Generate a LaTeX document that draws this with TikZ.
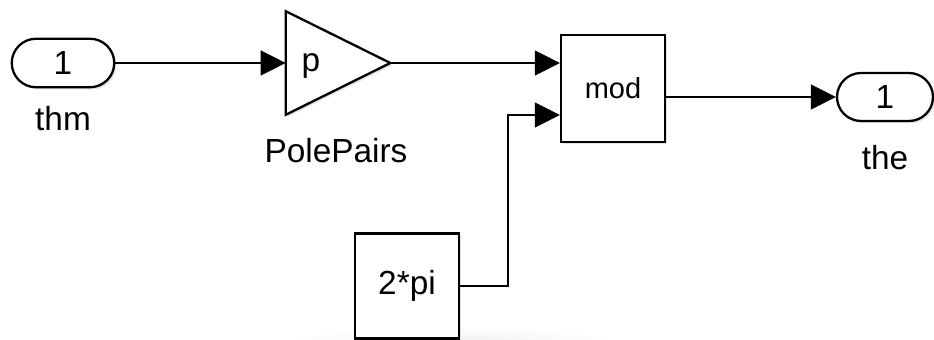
\documentclass[tikz,border=0pt]{standalone}
\usepackage{fontspec}
\setmainfont{Liberation Sans}
\usetikzlibrary{arrows.meta,shapes.misc,shadows}

\begin{document}
\begin{tikzpicture}[
    x=0.02cm, y=-0.02cm,
    shd/.style={drop shadow={shadow xshift=1.2pt, shadow yshift=-1.2pt, opacity=0.22}},
    port/.style={draw, rounded rectangle, line width=1.3pt, minimum width=2.05cm, minimum height=0.97cm, inner sep=0pt, fill=white, shd, font=\fontsize{19}{23}\selectfont},
    blk/.style={draw, line width=1.3pt, minimum width=2.08cm, minimum height=2.1cm, inner sep=0pt, fill=white, shd, font=\fontsize{19}{23}\selectfont},
    sig/.style={-{Triangle[length=0.5cm, width=0.5cm]}, line width=0.8pt},
    lbl/.style={font=\fontsize{19}{23}\selectfont, inner sep=0pt}
]
\useasboundingbox (0,0) rectangle (934,340);

% faint glow along the bottom edge
\begin{scope}
  \clip (0,0) rectangle (934,340);
  \shade[inner color=black!9, outer color=white] (450,352) ellipse (190 and 26);
\end{scope}

% ports
\node[port] (thm) at (63,63) {1};
\node[lbl] (thmlbl) at (63,119) {thm};
\node[port, minimum width=1.92cm, minimum height=0.96cm] (the) at (885,97) {1};
\node[lbl] (thelbl) at (885,158) {the};

% gain, drawn as a triangle over an empty box
\node[minimum width=2.08cm, minimum height=2.06cm, inner sep=0pt] (gain) at (338,63) {};
\draw[line width=1.3pt, fill=white, shd] (gain.north west) -- (gain.east) -- (gain.south west) -- cycle;
\node[lbl] (gainp) at (311,66) {p};
\node[lbl] (gainlbl) at (336,151) {PolePairs};

% mod block and constant
\node[blk, minimum height=2.14cm, font=\fontsize{16.5}{19}\selectfont] (mod) at (613,88.5) {mod};
\node[blk] (twopi) at (407,286) {2*pi};
\coordinate (modin1) at (mod.west |- 0,63);
\coordinate (modin2) at (mod.west |- 0,115);
\coordinate (modout) at (mod.east |- 0,97);

% signals
\draw[sig] (thm.east) -- (gain.west);
\draw[sig] (gain.east) -- (modin1);
\draw[sig] (twopi.east) -- ++(48,0) |- (modin2);
\draw[sig] (modout) -- (the.west);
\end{tikzpicture}
\end{document}
